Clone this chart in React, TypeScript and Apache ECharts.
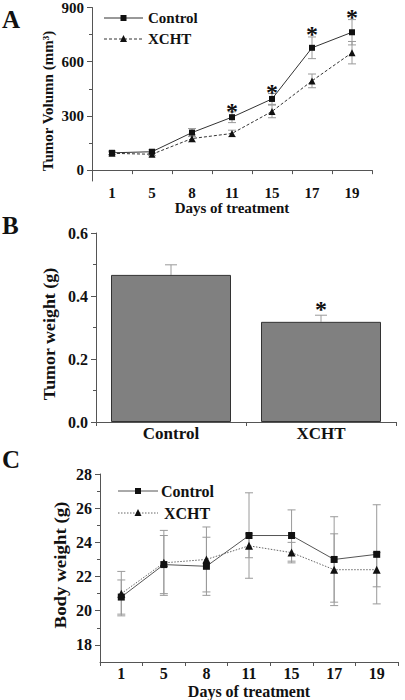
import React, { useEffect, useRef } from "react";
import * as echarts from "echarts";

// ---- Panel A: tumor volume ----
const daysA = ["1", "5", "8", "11", "15", "17", "19"];
const volControl = [96, 102, 208, 293, 394, 677, 763];
const volControlErr = [10, 10, 22, 30, 30, 60, 70];
const volXCHT = [93, 88, 175, 203, 325, 494, 650];
const volXCHTErr = [8, 8, 20, 18, 35, 38, 62];
const starDaysA = ["11", "15", "17", "19"];
const starValsA = [326, 433, 756, 847];
const yTicksA = [0, 300, 600, 900];
const yMinorA = [150, 450, 750];

// ---- Panel B: tumor weight ----
const groupsB = ["Control", "XCHT"];
const weightB = [0.467, 0.318];
const weightBErr = [0.032, 0.021];
const starGroupsB = ["XCHT"];
const starValsB = [0.359];

// ---- Panel C: body weight ----
const daysC = ["1", "5", "8", "11", "15", "17", "19"];
const bwControl = [20.8, 22.7, 22.6, 24.4, 24.4, 23.0, 23.3];
const bwControlErr = [1.0, 1.7, 1.7, 2.5, 1.5, 2.5, 2.9];
const bwXCHT = [21.0, 22.8, 23.0, 23.8, 23.4, 22.4, 22.4];
const bwXCHTErr = [1.3, 1.9, 1.9, 0.7, 0.6, 2.1, 1.0];
const yTicksC = [18, 20, 22, 24, 26, 28];
const yMinorC = [19, 21, 23, 25, 27];

const FONT = "'Liberation Serif', 'Times New Roman', serif";
const AXIS = "#555";
const ERR = "#9a9a9a";

function errData(cats: string[], vals: number[], errs: number[]) {
  return cats.map((c, i) => [i, vals[i], errs[i]]);
}

function errSeries(
  name: string,
  data: number[][],
  xi: number,
  yi: number,
  upOnly: boolean,
  cap: number
) {
  return {
    type: "custom",
    name,
    xAxisIndex: xi,
    yAxisIndex: yi,
    z: 1,
    silent: true,
    data,
    renderItem: (params: any, api: any) => {
      const x = api.value(0);
      const v = api.value(1);
      const e = api.value(2);
      const top = api.coord([x, v + e]);
      const mid = api.coord([x, v]);
      const bot = upOnly ? mid : api.coord([x, v - e]);
      const style = { stroke: ERR, lineWidth: 1 };
      const children: any[] = [
        { type: "line", shape: { x1: top[0], y1: top[1], x2: bot[0], y2: bot[1] }, style },
        { type: "line", shape: { x1: top[0] - cap, y1: top[1], x2: top[0] + cap, y2: top[1] }, style },
      ];
      if (!upOnly) {
        children.push({
          type: "line",
          shape: { x1: bot[0] - cap, y1: bot[1], x2: bot[0] + cap, y2: bot[1] },
          style,
        });
      }
      return { type: "group", children };
    },
  };
}

function starSeries(name: string, allCats: string[], cats: string[], vals: number[], xi: number, yi: number) {
  return {
    type: "custom",
    name,
    xAxisIndex: xi,
    yAxisIndex: yi,
    z: 5,
    silent: true,
    data: cats.map((c, i) => [allCats.indexOf(c), vals[i]]),
    renderItem: (params: any, api: any) => {
      const p = api.coord([api.value(0), api.value(1)]);
      return {
        type: "text",
        x: p[0],
        y: p[1],
        style: {
          text: "*",
          fontFamily: FONT,
          fontWeight: "bold",
          fontSize: 24,
          fill: "#111",
          textAlign: "center",
          textVerticalAlign: "middle",
        },
      };
    },
  };
}

const labelStyle = (size: number, margin: number) => ({
  fontFamily: FONT,
  fontWeight: "bold",
  fontSize: size,
  color: "#111",
  margin,
});

function legendItems(x0: number, x1: number, tx: number, y: number, dash: any, square: boolean, text: string, size: number, lineColor: string) {
  const cx = (x0 + x1) / 2;
  const items: any[] = [
    {
      type: "line",
      shape: { x1: x0, y1: y, x2: x1, y2: y },
      style: { stroke: lineColor, lineWidth: 1, lineDash: dash },
    },
  ];
  if (square) {
    items.push({ type: "rect", shape: { x: cx - 3, y: y - 3, width: 6, height: 6 }, style: { fill: "#111" } });
  } else {
    items.push({
      type: "polygon",
      shape: { points: [[cx, y - 4], [cx - 3.5, y + 3], [cx + 3.5, y + 3]] },
      style: { fill: "#111" },
    });
  }
  items.push({
    type: "text",
    x: tx,
    y,
    style: {
      text,
      fontFamily: FONT,
      fontWeight: "bold",
      fontSize: size,
      fill: "#111",
      textAlign: "left",
      textVerticalAlign: "middle",
    },
  });
  return items;
}

function rotText(text: string, x: number, y: number, size: number, scale: number) {
  return {
    type: "text",
    x,
    y,
    rotation: Math.PI / 2,
    scaleX: scale,
    style: {
      text,
      fontFamily: FONT,
      fontWeight: "bold",
      fontSize: size,
      fill: "#111",
      textAlign: "center",
      textVerticalAlign: "middle",
    },
  };
}

function panelLetter(text: string, y: number) {
  return {
    type: "text",
    x: 2,
    y,
    style: {
      text,
      fontFamily: FONT,
      fontWeight: "bold",
      fontSize: 25,
      fill: "#111",
      textAlign: "left",
      textVerticalAlign: "middle",
    },
  };
}

export default function App() {
  const ref = useRef<HTMLDivElement>(null);

  useEffect(() => {
    if (!ref.current) return;
    const chart = echarts.init(ref.current, undefined, { renderer: "svg" });

    const axisLine = { show: true, lineStyle: { color: AXIS, width: 1 } };

    const option: any = {
      animation: false,
      backgroundColor: "#fff",
      grid: [
        { left: 92, top: 6, width: 280, height: 175 },
        { left: 96, top: 233, width: 300, height: 189 },
        { left: 100, top: 474, width: 298, height: 188 },
      ],
      xAxis: [
        {
          type: "category",
          gridIndex: 0,
          data: daysA,
          boundaryGap: true,
          axisLine,
          axisTick: { show: true, length: 4, lineStyle: { color: AXIS } },
          axisLabel: labelStyle(15, 4),
          name: "Days of treatment",
          nameLocation: "middle",
          nameGap: 16,
          nameTextStyle: { fontFamily: FONT, fontWeight: "bold", fontSize: 15, color: "#111" },
        },
        {
          type: "category",
          gridIndex: 1,
          data: groupsB,
          boundaryGap: true,
          axisLine,
          axisTick: { show: true, length: 4, lineStyle: { color: AXIS } },
          axisLabel: labelStyle(17, 3),
        },
        {
          type: "category",
          gridIndex: 2,
          data: daysC,
          boundaryGap: true,
          axisLine,
          axisTick: { show: true, length: 4, lineStyle: { color: AXIS } },
          axisLabel: labelStyle(16, 3),
          name: "Days of treatment",
          nameLocation: "middle",
          nameGap: 21,
          nameTextStyle: { fontFamily: FONT, fontWeight: "bold", fontSize: 16, color: "#111" },
        },
      ],
      yAxis: [
        {
          type: "value",
          gridIndex: 0,
          position: "left",
          min: -60,
          max: 900,
          axisLine,
          splitLine: { show: false },
          axisTick: { show: true, length: 5, customValues: yTicksA, lineStyle: { color: AXIS } },
          axisLabel: { ...labelStyle(15, 8), customValues: yTicksA },
        },
        {
          type: "value",
          gridIndex: 0,
          position: "left",
          min: -60,
          max: 900,
          axisLine: { show: false },
          splitLine: { show: false },
          axisTick: { show: true, length: 3, customValues: yMinorA, lineStyle: { color: AXIS } },
          axisLabel: { show: false },
        },
        {
          type: "value",
          gridIndex: 1,
          position: "left",
          min: 0,
          max: 0.6,
          interval: 0.2,
          axisLine,
          splitLine: { show: false },
          axisTick: { show: true, length: 5, lineStyle: { color: AXIS } },
          minorTick: { show: true, splitNumber: 2, length: 3, lineStyle: { color: AXIS } },
          axisLabel: { ...labelStyle(16, 8), formatter: (v: number) => v.toFixed(1) },
        },
        {
          type: "value",
          gridIndex: 2,
          position: "left",
          min: 17,
          max: 28,
          axisLine,
          splitLine: { show: false },
          axisTick: { show: true, length: 5, customValues: yTicksC, lineStyle: { color: AXIS } },
          axisLabel: { ...labelStyle(16, 8), customValues: yTicksC },
        },
        {
          type: "value",
          gridIndex: 2,
          position: "left",
          min: 17,
          max: 28,
          axisLine: { show: false },
          splitLine: { show: false },
          axisTick: { show: true, length: 3, customValues: yMinorC, lineStyle: { color: AXIS } },
          axisLabel: { show: false },
        },
      ],
      series: [
        // Panel A
        errSeries("errA1", errData(daysA, volControl, volControlErr), 0, 0, false, 4),
        errSeries("errA2", errData(daysA, volXCHT, volXCHTErr), 0, 0, false, 4),
        {
          type: "line",
          name: "Control",
          xAxisIndex: 0,
          yAxisIndex: 0,
          data: volControl,
          symbol: "rect",
          symbolSize: 6,
          z: 3,
          lineStyle: { color: "#333", width: 1 },
          itemStyle: { color: "#111" },
        },
        {
          type: "line",
          name: "XCHT",
          xAxisIndex: 0,
          yAxisIndex: 0,
          data: volXCHT,
          symbol: "triangle",
          symbolSize: 7,
          z: 3,
          lineStyle: { color: "#333", width: 1, type: [3, 2] },
          itemStyle: { color: "#111" },
        },
        starSeries("sigA", daysA, starDaysA, starValsA, 0, 0),
        // Panel B
        errSeries("errB", errData(groupsB, weightB, weightBErr), 1, 2, true, 6),
        {
          type: "bar",
          name: "weight",
          xAxisIndex: 1,
          yAxisIndex: 2,
          data: weightB,
          barWidth: "80%",
          z: 2,
          itemStyle: { color: "#808080", borderColor: "#333", borderWidth: 1 },
        },
        starSeries("sigB", groupsB, starGroupsB, starValsB, 1, 2),
        // Panel C
        errSeries("errC1", errData(daysC, bwControl, bwControlErr), 2, 3, false, 4),
        errSeries("errC2", errData(daysC, bwXCHT, bwXCHTErr), 2, 3, false, 4),
        {
          type: "line",
          name: "Control",
          xAxisIndex: 2,
          yAxisIndex: 3,
          data: bwControl,
          symbol: "rect",
          symbolSize: 7,
          z: 3,
          lineStyle: { color: "#555", width: 1 },
          itemStyle: { color: "#111" },
        },
        {
          type: "line",
          name: "XCHT",
          xAxisIndex: 2,
          yAxisIndex: 3,
          data: bwXCHT,
          symbol: "triangle",
          symbolSize: 8,
          z: 3,
          lineStyle: { color: "#666", width: 1, type: [1.5, 1.5] },
          itemStyle: { color: "#111" },
        },
      ],
      graphic: [
        panelLetter("A", 19),
        panelLetter("B", 225),
        panelLetter("C", 459),
        rotText("Tumor Volumn (mm³)", 48, 101, 15, 1.0),
        rotText("Tumor weight (g)", 50, 334, 16, 1.12),
        rotText("Body weight (g)", 61, 565, 16, 1.18),
        ...legendItems(104, 143, 148, 18, null, true, "Control", 15, "#333"),
        ...legendItems(104, 143, 148, 39, [3, 2], false, "XCHT", 15, "#333"),
        ...legendItems(118, 158, 161, 491, null, true, "Control", 16, "#555"),
        ...legendItems(118, 158, 164, 513, [1.5, 1.5], false, "XCHT", 16, "#666"),
      ],
    };

    chart.setOption(option);
    return () => chart.dispose();
  }, []);

  return (
    <div
      ref={ref}
      style={{ position: "absolute", left: 0, top: 0, width: 405, height: 700 }}
    />
  );
}
